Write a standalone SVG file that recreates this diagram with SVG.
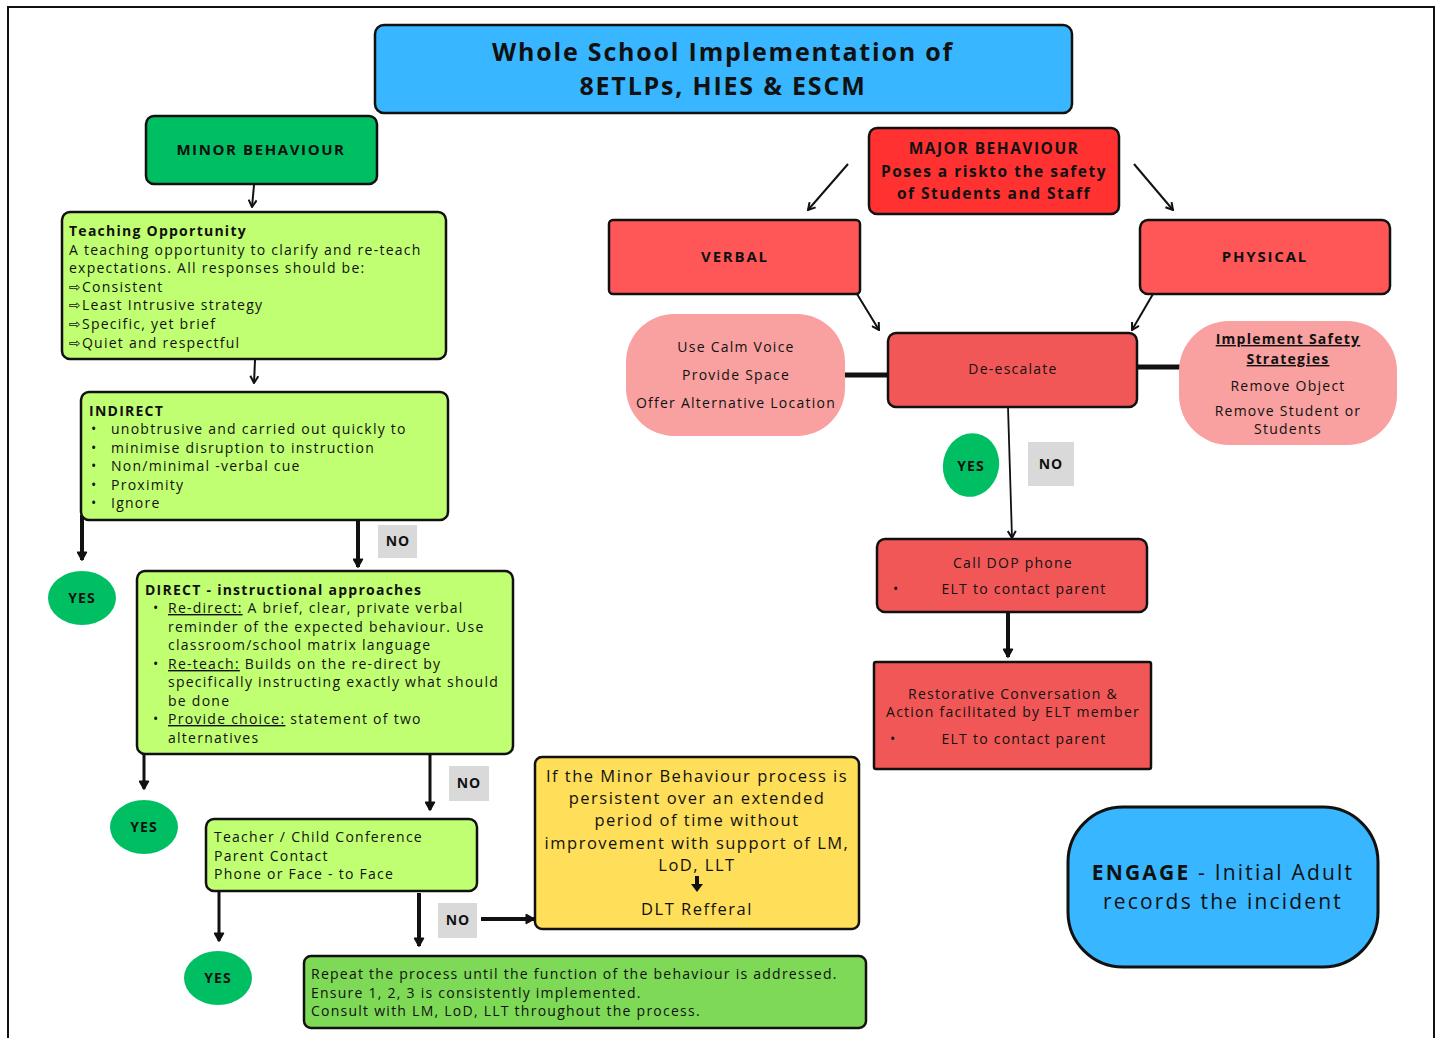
<svg xmlns="http://www.w3.org/2000/svg" width="1440" height="1038" viewBox="0 0 1440 1038">
<defs>
<style>
text{font-family:"Open Sans","DejaVu Sans",sans-serif;fill:#111;}
.box{stroke:#111;stroke-width:2.5;}
.t{font-size:14px;letter-spacing:1.25px;}
.b{font-weight:bold;}
.c{text-anchor:middle;}
.no{fill:#d9d9d9;}
.yes{fill:#00bf63;}
.lbl{font-size:14px;font-weight:bold;text-anchor:middle;letter-spacing:1px;}
.con{stroke:#111;fill:none;}
.pink{fill:#f9a0a0;}
.red{fill:#f25757;}
.u{text-decoration:underline;}
</style>
<marker id="ah" viewBox="0 0 10 10" refX="9" refY="5" markerWidth="10" markerHeight="10" markerUnits="userSpaceOnUse" orient="auto">
<path d="M2,1 L9,5 L2,9" fill="none" stroke="#111" stroke-width="2"/>
</marker>
<marker id="ahb" viewBox="0 0 10 10" refX="9" refY="5" markerWidth="11" markerHeight="11" markerUnits="userSpaceOnUse" orient="auto">
<path d="M2,1 L9,5 L2,9 Z" fill="#111" stroke="#111" stroke-width="1.5" stroke-linejoin="round"/>
</marker>
</defs>
<rect x="0" y="0" width="1440" height="1038" fill="#fff"/>
<rect x="8" y="7" width="1426" height="1040" fill="none" stroke="#111" stroke-width="2"/>

<g id="connectors">
<line class="con" x1="254" y1="185" x2="252" y2="207" stroke-width="2" marker-end="url(#ah)"/>
<line class="con" x1="255" y1="360" x2="254" y2="383" stroke-width="2" marker-end="url(#ah)"/>
<line class="con" x1="82" y1="515" x2="82" y2="560" stroke-width="4" marker-end="url(#ahb)"/>
<line class="con" x1="358" y1="520" x2="358" y2="567" stroke-width="4" marker-end="url(#ahb)"/>
<line class="con" x1="144" y1="755" x2="144" y2="789" stroke-width="3" marker-end="url(#ahb)"/>
<line class="con" x1="430" y1="755" x2="430" y2="810" stroke-width="3" marker-end="url(#ahb)"/>
<line class="con" x1="219" y1="892" x2="219" y2="941" stroke-width="3" marker-end="url(#ahb)"/>
<line class="con" x1="419" y1="893" x2="419" y2="946" stroke-width="4" marker-end="url(#ahb)"/>
<line class="con" x1="481" y1="919" x2="534" y2="919" stroke-width="4" marker-end="url(#ahb)"/>
<line class="con" x1="848" y1="164" x2="808" y2="210" stroke-width="2" marker-end="url(#ah)"/>
<line class="con" x1="1134" y1="164" x2="1173" y2="210" stroke-width="2" marker-end="url(#ah)"/>
<line class="con" x1="857" y1="294" x2="879" y2="330" stroke-width="2" marker-end="url(#ah)"/>
<line class="con" x1="1153" y1="294" x2="1132" y2="330" stroke-width="2" marker-end="url(#ah)"/>
<line class="con" x1="845" y1="375" x2="889" y2="375" stroke-width="5"/>
<line class="con" x1="1136" y1="367" x2="1180" y2="367" stroke-width="5"/>
<line class="con" x1="1008" y1="407" x2="1012" y2="538" stroke-width="1.8" marker-end="url(#ah)"/>
<line class="con" x1="1008" y1="612" x2="1008" y2="657" stroke-width="4" marker-end="url(#ahb)"/>
</g>

<g id="title">
<rect class="box" x="375" y="25" width="697" height="88" rx="9" fill="#38b6ff"/>
<text class="c b" x="723" y="61" font-size="25" letter-spacing="1.8">Whole School Implementation of</text>
<text class="c b" x="723" y="95" font-size="25" letter-spacing="1.8">8ETLPs, HIES &amp; ESCM</text>
</g>

<g id="minor">
<rect class="box" x="146" y="116" width="231" height="68" rx="8" fill="#00bf63"/>
<text class="c b" x="261" y="155" font-size="15" letter-spacing="1.6">MINOR BEHAVIOUR</text>
</g>

<g id="teaching">
<rect class="box" x="62" y="212" width="384" height="147" rx="8" fill="#c1ff72"/>
<text class="t" x="69" y="236"><tspan class="b">Teaching Opportunity</tspan><tspan x="69" dy="18.6">A teaching opportunity to clarify and re-teach</tspan><tspan x="69" dy="18.6">expectations. All responses should be:</tspan><tspan x="69" dy="18.6">⇨Consistent</tspan><tspan x="69" dy="18.6">⇨Least Intrusive strategy</tspan><tspan x="69" dy="18.6">⇨Specific, yet brief</tspan><tspan x="69" dy="18.6">⇨Quiet and respectful</tspan></text>
</g>

<g id="indirect">
<rect class="box" x="81" y="392" width="367" height="128" rx="8" fill="#c1ff72"/>
<text class="t b" x="89" y="416">INDIRECT</text>
<g class="t">
<text x="91" y="434">•</text><text x="111" y="434">unobtrusive and carried out quickly to</text>
<text x="91" y="453">•</text><text x="111" y="453">minimise disruption to instruction</text>
<text x="91" y="471">•</text><text x="111" y="471">Non/minimal -verbal cue</text>
<text x="91" y="490">•</text><text x="111" y="490">Proximity</text>
<text x="91" y="508">•</text><text x="111" y="508">Ignore</text>
</g>
</g>

<g id="no1"><rect class="no" x="378" y="525" width="39" height="33"/><text class="lbl" x="398" y="546">NO</text></g>
<g id="yes1"><ellipse class="yes" cx="82" cy="598" rx="34" ry="27"/><text class="lbl" x="82" y="603">YES</text></g>

<g id="direct">
<rect class="box" x="137" y="571" width="376" height="183" rx="8" fill="#c1ff72"/>
<text class="t b" x="145" y="595">DIRECT - instructional approaches</text>
<g class="t">
<text x="153" y="613">•</text><text x="168" y="613"><tspan class="u">Re-direct:</tspan> A brief, clear, private verbal</text>
<text x="168" y="632">reminder of the expected behaviour. Use</text>
<text x="168" y="650">classroom/school matrix language</text>
<text x="153" y="669">•</text><text x="168" y="669"><tspan class="u">Re-teach:</tspan> Builds on the re-direct by</text>
<text x="168" y="687">specifically instructing exactly what should</text>
<text x="168" y="706">be done</text>
<text x="153" y="724">•</text><text x="168" y="724"><tspan class="u">Provide choice:</tspan> statement of two</text>
<text x="168" y="743">alternatives</text>
</g>
</g>

<g id="yes2"><ellipse class="yes" cx="144" cy="827" rx="34" ry="27"/><text class="lbl" x="144" y="832">YES</text></g>
<g id="no2"><rect class="no" x="449" y="766" width="40" height="35"/><text class="lbl" x="469" y="788">NO</text></g>

<g id="conference">
<rect class="box" x="206" y="819" width="271" height="72" rx="8" fill="#c1ff72"/>
<text class="t" x="214" y="842">Teacher / Child Conference</text>
<text class="t" x="214" y="861">Parent Contact</text>
<text class="t" x="214" y="879">Phone or Face - to Face</text>
</g>

<g id="yes3"><ellipse class="yes" cx="218" cy="978" rx="34" ry="27"/><text class="lbl" x="218" y="983">YES</text></g>
<g id="no3"><rect class="no" x="438" y="903" width="39" height="35"/><text class="lbl" x="458" y="925">NO</text></g>

<g id="dlt">
<rect class="box" x="535" y="757" width="324" height="172" rx="7" fill="#ffde59"/>
<g font-size="16.5" letter-spacing="1.5">
<text class="c" x="697" y="782">If the Minor Behaviour process is</text>
<text class="c" x="697" y="804">persistent over an extended</text>
<text class="c" x="697" y="826">period of time without</text>
<text class="c" x="697" y="849">improvement with support of LM,</text>
<text class="c" x="697" y="871">LoD, LLT</text>
<text class="c" x="697" y="915">DLT Refferal</text>
</g>
<path d="M695,876 L699,876 L699,884 L703,884 L697,892 L691,884 L695,884 Z" fill="#111"/>
</g>

<g id="repeat">
<rect class="box" x="304" y="956" width="562" height="72" rx="7" fill="#7ed957"/>
<text class="t" x="311" y="979">Repeat the process until the function of the behaviour is addressed.</text>
<text class="t" x="311" y="998">Ensure 1, 2, 3 is consistently implemented.</text>
<text class="t" x="311" y="1016">Consult with LM, LoD, LLT throughout the process.</text>
</g>

<g id="major">
<rect class="box" x="869" y="128" width="250" height="86" rx="8" fill="#ff3131"/>
<g class="c b" font-size="15.5" letter-spacing="1.5">
<text x="994" y="154">MAJOR BEHAVIOUR</text>
<text x="994" y="177">Poses a riskto the safety</text>
<text x="994" y="199">of Students and Staff</text>
</g>
</g>

<g id="verbal">
<rect class="box" x="609" y="220" width="251" height="74" rx="4" fill="#ff5757"/>
<text class="c b" x="735" y="262" font-size="15" letter-spacing="1.8">VERBAL</text>
</g>

<g id="physical">
<rect class="box" x="1140" y="220" width="250" height="74" rx="8" fill="#ff5757"/>
<text class="c b" x="1265" y="262" font-size="15" letter-spacing="1.8">PHYSICAL</text>
</g>

<g id="calm">
<rect class="pink" x="626" y="314" width="219" height="122" rx="48"/>
<g class="t c">
<text x="736" y="352">Use Calm Voice</text>
<text x="736" y="380">Provide Space</text>
<text x="736" y="408">Offer Alternative Location</text>
</g>
</g>

<g id="deescalate">
<rect class="box red" x="888" y="333" width="249" height="74" rx="8"/>
<text class="t c" x="1013" y="374">De-escalate</text>
</g>

<g id="safety">
<rect class="pink" x="1179" y="321" width="218" height="124" rx="50"/>
<g class="t c">
<text class="b u" x="1288" y="344">Implement Safety</text>
<text class="b u" x="1288" y="364">Strategies</text>
<text x="1288" y="391">Remove Object</text>
<text x="1288" y="416">Remove Student or</text>
<text x="1288" y="434">Students</text>
</g>
</g>

<g id="yes4"><ellipse class="yes" cx="971" cy="465" rx="28" ry="32" transform="rotate(12 971 465)"/><text class="lbl" x="971" y="471">YES</text></g>
<g id="no4"><rect class="no" x="1028" y="442" width="46" height="44"/><text class="lbl" x="1051" y="469">NO</text></g>

<g id="calldop">
<rect class="box red" x="877" y="539" width="270" height="73" rx="8"/>
<text class="t c" x="1013" y="568">Call DOP phone</text>
<text class="t" x="893" y="594">•</text>
<text class="t c" x="1024" y="594">ELT to contact parent</text>
</g>

<g id="restorative">
<rect class="box red" x="874" y="662" width="277" height="107" rx="2"/>
<text class="t c" x="1013" y="699">Restorative Conversation &amp;</text>
<text class="t c" x="1013" y="717">Action facilitated by ELT member</text>
<text class="t" x="890" y="744">•</text>
<text class="t c" x="1024" y="744">ELT to contact parent</text>
</g>

<g id="engage">
<rect x="1068" y="807" width="310" height="160" rx="55" fill="#38b6ff" stroke="#111" stroke-width="3"/>
<text class="c" x="1223" y="880" font-size="21" letter-spacing="2.2"><tspan class="b">ENGAGE</tspan> - Initial Adult</text>
<text class="c" x="1223" y="909" font-size="21" letter-spacing="2.2">records the incident</text>
</g>
</svg>
